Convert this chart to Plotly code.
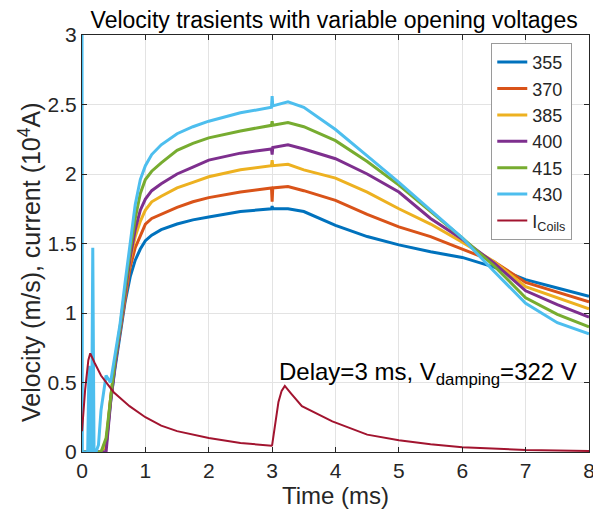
import plotly.graph_objects as go

# ---------------- data ----------------
T_EARLY = [0.0, 0.005, 0.09, 0.11, 0.13, 0.15, 0.17, 0.19, 0.22, 0.26]
T_MAIN = [0.3, 0.38, 0.45, 0.52, 0.6, 0.68, 0.76, 0.84, 0.92, 1.0, 1.1, 1.25, 1.5,
          1.75, 2.0, 2.5, 2.99, 3.0, 3.01, 3.25, 3.5, 4.0, 4.5, 5.0, 5.5, 6.0,
          6.5, 7.0, 7.5, 8.0]

v355_early = [0, 0, 0, 0, 0, 0, 0, 0, 0, 0]
v370_early = [0, 0, 0, 0, 0, 0.5, 0, 0, 0, 0]
v385_early = [0, 0, 0, 0, 0, 0, 0, 0, 0, 0]
v400_early = [0, 0, 0, 0, 0, 0, 0, 0, 0, 0]
v415_early = [0, 0, 0, 0, 0.55, 0, 0, 0, 0, 0]
v430_early = [3.3, 0, 0, 0.62, 0, 0, 1.47, 0, 0, 0.05]

v355 = [0, 0.04, 0.36, 0.6, 0.84, 1.08, 1.26, 1.38, 1.46, 1.52, 1.56, 1.60, 1.64,
        1.67, 1.69, 1.73, 1.75, 1.77, 1.75, 1.75, 1.73, 1.63, 1.55, 1.49, 1.44,
        1.40, 1.33, 1.24, 1.18, 1.12]
v370 = [0, 0.05, 0.38, 0.63, 0.86, 1.12, 1.33, 1.47, 1.56, 1.64, 1.68, 1.71, 1.76,
        1.80, 1.83, 1.87, 1.90, 1.80, 1.90, 1.91, 1.88, 1.81, 1.71, 1.62, 1.55,
        1.46, 1.37, 1.22, 1.15, 1.08]
v385 = [0, 0.05, 0.38, 0.64, 0.88, 1.15, 1.38, 1.55, 1.66, 1.74, 1.80, 1.84, 1.90,
        1.94, 1.98, 2.03, 2.06, 2.10, 2.06, 2.07, 2.03, 1.97, 1.87, 1.75, 1.64,
        1.51, 1.37, 1.19, 1.11, 1.03]
v400 = [0, 0, 0.35, 0.62, 0.88, 1.15, 1.40, 1.60, 1.74, 1.82, 1.88, 1.93, 2.00,
        2.05, 2.10, 2.15, 2.18, 2.14, 2.19, 2.21, 2.18, 2.11, 2.00, 1.87, 1.68,
        1.53, 1.36, 1.16, 1.06, 0.97]
v415 = [0, 0.1, 0.40, 0.66, 0.90, 1.18, 1.45, 1.68, 1.86, 1.96, 2.02, 2.08, 2.17,
        2.22, 2.26, 2.31, 2.35, 2.38, 2.35, 2.37, 2.34, 2.24, 2.09, 1.92, 1.73,
        1.54, 1.34, 1.11, 0.99, 0.90]
v430 = [0.3, 0.55, 0.50, 0.70, 0.92, 1.22, 1.52, 1.78, 1.96, 2.06, 2.14, 2.21, 2.29,
        2.34, 2.38, 2.44, 2.48, 2.56, 2.49, 2.52, 2.48, 2.32, 2.13, 1.94, 1.74,
        1.54, 1.30, 1.07, 0.93, 0.85]

T_COIL = [0.0, 0.05, 0.1, 0.13, 0.2, 0.3, 0.5, 0.75, 1.0, 1.25, 1.5, 2.0, 2.5,
          2.99, 3.0, 3.05, 3.1, 3.15, 3.2, 3.3, 3.47, 3.95, 4.5, 5.0, 5.5, 6.0,
          7.0, 8.0]
i_coils = [0.15, 0.45, 0.66, 0.71, 0.64, 0.55, 0.43, 0.33, 0.25, 0.19, 0.15, 0.10,
           0.065, 0.045, 0.05, 0.22, 0.36, 0.44, 0.475, 0.42, 0.33, 0.22, 0.125,
           0.085, 0.055, 0.035, 0.015, 0.008]

labels = ["355", "370", "385", "400", "415", "430"]
colors = ["#0072BD", "#D95319", "#EDB120", "#7E2F8E", "#77AC30", "#4DBEEE"]
early = [v355_early, v370_early, v385_early, v400_early, v415_early, v430_early]
main = [v355, v370, v385, v400, v415, v430]

FONT = "Liberation Sans, Arial, Helvetica, sans-serif"
DARK = "#262626"

fig = go.Figure()
for lab, col, e, m in zip(labels, colors, early, main):
    fig.add_trace(go.Scatter(x=T_EARLY + T_MAIN, y=e + m, mode="lines", name=lab,
                             line=dict(color=col, width=3)))
fig.add_trace(go.Scatter(x=T_COIL, y=i_coils, mode="lines", name="I<sub>Coils</sub>",
                         line=dict(color="#A2142F", width=2)))

fig.add_annotation(x=3.08, y=0.44, xref="x", yref="y", xanchor="left", yanchor="bottom",
                   text="Delay=3 ms, V<sub>damping</sub>=322 V", showarrow=False,
                   font=dict(family=FONT, size=24, color="black"))

# y-axis title drawn as a rotated annotation for exact placement
fig.add_annotation(x=-0.103, y=0.455, xref="paper", yref="paper",
                   xanchor="center", yanchor="middle", textangle=-90,
                   text="Velocity (m/s), current (10<sup>4</sup>A)", showarrow=False,
                   font=dict(family=FONT, size=25, color=DARK))

axis_common = dict(showgrid=True, gridcolor="#e3e3e3", gridwidth=1,
                   showline=True, linecolor=DARK, linewidth=1, mirror="ticks",
                   ticks="inside", ticklen=5, tickcolor=DARK,
                   tickfont=dict(family=FONT, size=21, color=DARK),
                   zeroline=False, automargin=False)

# page body has an 8px margin, so the figure is sized to fit the 601x514 window
fig.update_layout(
    width=593, height=506,
    margin=dict(l=74, r=12, t=27, b=62),
    paper_bgcolor="white", plot_bgcolor="white",
    font=dict(family=FONT, color=DARK),
    title=dict(text="Velocity trasients with variable opening voltages",
               x=0.55, xanchor="center", y=0.976, yanchor="middle",
               font=dict(family=FONT, size=23, color="black")),
    xaxis=dict(range=[0, 8], tickvals=[0, 1, 2, 3, 4, 5, 6, 7, 8],
               title=dict(text="Time (ms)", standoff=5,
                          font=dict(family=FONT, size=24, color=DARK)),
               **axis_common),
    yaxis=dict(range=[0, 3], tickvals=[0, 0.5, 1, 1.5, 2, 2.5, 3],
               ticktext=["0", "0.5", "1", "1.5", "2", "2.5", "3"],
               **axis_common),
    legend=dict(x=0.967, y=0.981, xanchor="right", yanchor="top",
                bgcolor="white", bordercolor="#9a9a9a", borderwidth=1,
                font=dict(family=FONT, size=18, color=DARK),
                itemwidth=30, tracegroupgap=0),
)

fig.write_html("out.html")
